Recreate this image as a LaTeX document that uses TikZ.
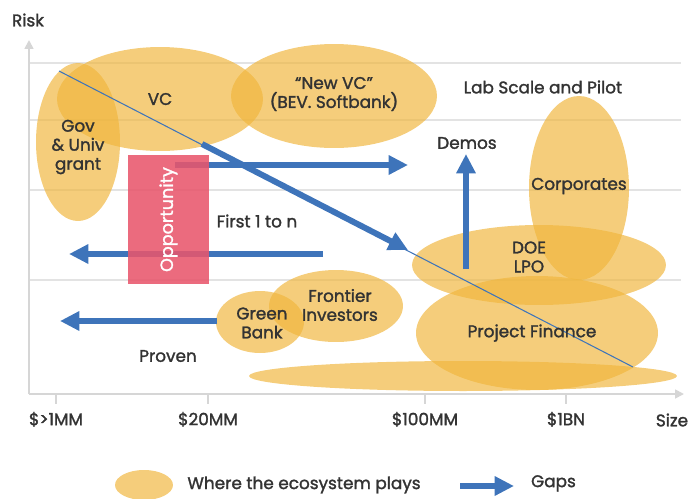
\documentclass[tikz,border=0pt]{standalone}
\usepackage{fontspec}
\setmainfont{Poppins}[FakeBold=1.6]
\usetikzlibrary{shapes.geometric,arrows.meta,positioning}

\definecolor{gapblue}{RGB}{62,116,186}
\definecolor{zonegold}{RGB}{240,182,61}
\definecolor{oppred}{RGB}{232,86,108}
\definecolor{inkgray}{RGB}{51,51,51}
\definecolor{axisgray}{RGB}{214,214,214}

\begin{document}
\begin{tikzpicture}[
  x=0.02cm, y=-0.02cm,
  font=\fontsize{9.6}{10.8}\selectfont, text=inkgray,
  zone/.style={ellipse, fill=zonegold, fill opacity=0.68, inner sep=0pt},
  gap/.style={-{Triangle[length=11pt,width=10.5pt]}, line width=3.4pt, draw=gapblue},
  trend/.style={draw=gapblue, line width=0.6pt},
  lbl/.style={align=center, inner sep=1pt},
  gridline/.style={draw=black!11, line width=0.7pt},
  axis/.style={-{Triangle[length=5pt,width=5pt]}, draw=axisgray, line width=1pt},
  axistick/.style={draw=axisgray, line width=1pt},
]
\useasboundingbox (0,0) rectangle (691,498);

% axes and grid
\coordinate (o) at (29,394);
\coordinate (ytop) at (29,40);
\coordinate (xend) at (684,394);
\foreach \y in {63,120,190,280}
  \draw[gridline] (29,\y) -- (681,\y);
\draw[axis] (o) -- (ytop);
\draw[axis] (o) -- (xend);
\node[lbl] (risk) at (28,20) {Risk};
\node[lbl] (size) at (672,420) {Size};

\foreach \x/\name/\txt in {56/t1/{\$>1MM}, 208/t2/{\$20MM}, 425/t3/{\$100MM}, 566/t4/{\$1BN}} {
  \coordinate (\name) at (\x,394);
  \draw[axistick] (\name) -- ++(0,10);
  \node[lbl, below=9pt of \name] (\name lbl) {\txt};
}

% funding zones
\node[zone, minimum width=1.68cm, minimum height=3.16cm] (gov)   at (78,142)  {};
\node[zone, minimum width=4.12cm, minimum height=2.08cm] (vc)    at (160,99)  {};
\node[zone, minimum width=4.12cm, minimum height=2.08cm] (newvc) at (334,96)  {};
\node[zone, minimum width=2.0cm,  minimum height=3.68cm] (corp)  at (579,188) {};
\node[zone, minimum width=5.08cm, minimum height=1.6cm]  (doe)   at (539,265) {};
\node[zone, minimum width=4.84cm, minimum height=2.28cm] (pf)    at (537,333) {};
\node[zone, minimum width=8.56cm, minimum height=0.6cm]  (debt)  at (463,376) {};
\node[zone, minimum width=1.76cm, minimum height=1.24cm] (green) at (260,322) {};
\node[zone, minimum width=2.68cm, minimum height=1.44cm] (front) at (336,306) {};

% risk trend and gaps
\coordinate (trendA) at (59,71);
\coordinate (trendB) at (633,367);
\draw[trend] (trendA) -- (trendB);

\coordinate (g1s) at (175,165);  \coordinate (g1e) at (408,165);
\coordinate (g2s) at (202,144);  \coordinate (g2e) at (408,250);
\coordinate (g3s) at (323,254);  \coordinate (g3e) at (69,254);
\coordinate (g4s) at (217,321);  \coordinate (g4e) at (60,321);
\coordinate (g5s) at (466,269);  \coordinate (g5e) at (466,154);
\draw[gap] (g1s) -- (g1e);
\draw[gap] (g2s) -- (g2e);
\draw[gap] (g3s) -- (g3e);
\draw[gap] (g4s) -- (g4e);
\draw[gap] (g5s) -- (g5e);

\node[rectangle, fill=oppred, fill opacity=0.88, minimum width=1.62cm, minimum height=2.58cm,
      inner sep=0pt] (opp) at (168.5,219.5) {};
\node[rotate=90, text=white, font=\fontsize{10}{12}\selectfont] (opplbl) at (opp) {Opportunity};

% labels
\node[lbl] (govlbl)   at (78,147) {Gov\\\& Univ\\grant};
\node[lbl] (vclbl)    at (vc)    {VC};
\node[lbl] (newvclbl) at (334,94) {“New VC”\\(BEV. Softbank)};
\node[lbl] (lab)      at (543,87) {Lab Scale and Pilot};
\node[lbl] (demos)    at (467,143) {Demos};
\node[lbl] (corplbl)  at (579,186) {Corporates};
\node[lbl] (first)    at (257,221) {First 1 to n};
\node[lbl] (doelbl)   at (529,257) {DOE\\LPO};
\node[lbl] (pflbl)    at (532,333) {Project Finance};
\node[lbl] (frontlbl) at (340,305) {Frontier\\Investors};
\node[lbl] (greenlbl) at (262,323) {Green\\Bank};
\node[lbl] (proven)   at (168,356) {Proven};

% legend
\node[zone, minimum width=1.16cm, minimum height=0.6cm] (legzone) at (144,485) {};
\node[lbl, right=0.24cm of legzone] (legzonelbl) {Where the ecosystem plays};
\coordinate (leggs) at (460,486);
\coordinate (legge) at (514,486);
\draw[gap] (leggs) -- (legge);
\node[lbl, right=0.3cm of legge, yshift=1.5pt] (leggaplbl) {Gaps};
\end{tikzpicture}
\end{document}
